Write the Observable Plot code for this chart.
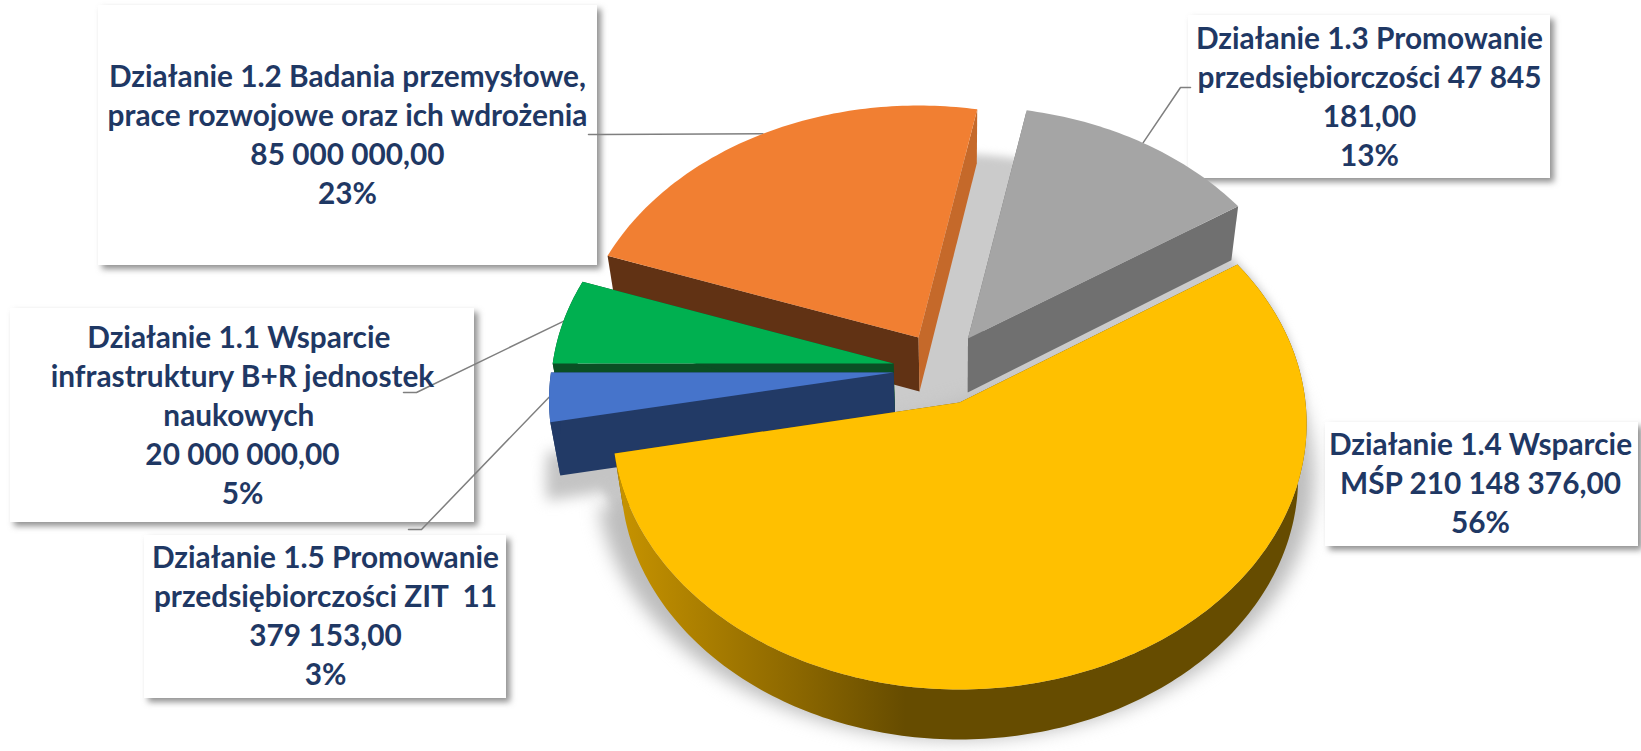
<!DOCTYPE html>
<html lang="pl">
<head>
<meta charset="utf-8">
<script src="https://cdn.jsdelivr.net/npm/d3@7"></script>
<script src="https://cdn.jsdelivr.net/npm/@observablehq/plot@0.6"></script>
<style>html,body{margin:0;padding:0;background:#fff}svg{display:block}</style>
</head>
<body>
<div id="chart"></div>
<script>
// ---- chart values ----
const actions = ["1.1", "1.2", "1.3", "1.4", "1.5"];
const amounts = [20000000, 85000000, 47845181, 210148376, 11379153];
const labelTexts = [
  "Działanie 1.1 Wsparcie\u00a0\ninfrastruktury B+R jednostek\nnaukowych\u00a0\n20 000 000,00\n5%",
  "Działanie 1.2 Badania przemysłowe,\nprace rozwojowe oraz ich wdrożenia\n85 000 000,00\n23%",
  "Działanie 1.3 Promowanie\nprzedsiębiorczości 47 845\n181,00\n13%",
  "Działanie 1.4 Wsparcie\nMŚP 210 148 376,00\n56%",
  "Działanie 1.5 Promowanie\nprzedsiębiorczości ZIT  11\n379 153,00\n3%"
];

// ---- styles ----
const topColors  = ["#00b050", "#f17f32", "#a5a5a5", "#ffc000", "#4674cb"];
const wallColors = ["#0a4f24", "#613214", "#707070", "#664c00", "#223a66"];
const sideColors = ["#0a4f24", "#c5692a", "#707070", "#664c00", "#223a66"];
const rimColors  = ["#0a4f24", null, null, "url(#rimGold)", "#223a66"];
const ink = "#1f3864", leader = "#7f7f7f";

// ---- layout ----
const W = 1641, H = 751;
const RX = 346, NEAR = 287, DEPTH = 54;
const tilt = [0.106, 0.106, 0.106, 0.08, 0.106];
const pivotX = 959;
const apexX = [893, 918, 967.5, 959, 893];
const apexY = [363, 337, 338, 402, 372];
const radius = [0.985, 0.985, 0.985, 1, 0.99];
const paintOrder = [1, 2, 0, 4, 3];
const boxX1 = [10, 98, 1188, 1325, 144];
const boxX2 = [474, 597, 1550, 1638, 506];
const boxY1 = [308, 5, 15, 422, 535];
const boxY2 = [522, 265, 178, 546, 698];
const textX = [242, 347, 1369, 1480, 325];
const textY = [413.5, 132.5, 94.5, 481, 613.5];
const elbowX = [[403, 416], [588, 600], [1190, 1180], null, [408, 421]];
const elbowY = [392, 134, 87, null, 529];

// ---- geometry derived from the values ----
const pieAngles = d3.pie().sort(null).value(d => d)
  .startAngle(Math.PI * 1.5).endAngle(Math.PI * 3.5)(amounts);

function onRim(ax, ay, a, k, p = tilt[0]) {
  const u = Math.sin(a), v = -Math.cos(a), s = 1 / (1 - p * v);
  return {x: ax + RX * k * u * s, y: ay + NEAR * (1 - p) * v * s, v};
}
function dropped(q) {
  return {x: q.x - 0.0245 * (q.x - pivotX), y: q.y + DEPTH - 4 * Math.max(0, q.v), v: q.v};
}
function arc(ax, ay, a0, a1, k, p) {
  const n = Math.max(2, Math.ceil(Math.abs(a1 - a0) / 0.0175));
  return d3.range(n + 1).map(i => onRim(ax, ay, a0 + (a1 - a0) * i / n, k, p));
}
const poly = (pts, fill, extra = {}) =>
  Plot.line(pts, {x: "x", y: "y", fill, stroke: "none", ...extra});

const marks = [];

// gradient for the curved wall of the largest slice
marks.push(() => {
  const defs = d3.create("svg:defs");
  const g = defs.append("linearGradient").attr("id", "rimGold")
    .attr("gradientUnits", "userSpaceOnUse")
    .attr("x1", 610).attr("x2", 905).attr("y1", 0).attr("y2", 0);
  g.append("stop").attr("offset", 0).attr("stop-color", "#c99500");
  g.append("stop").attr("offset", 0.65).attr("stop-color", "#8a6600");
  g.append("stop").attr("offset", 1).attr("stop-color", "#664c00");
  return defs.node();
});

// soft shadows on the floor
const big = pieAngles[3], small = pieAngles[4];
marks.push(poly(arc(945, 385, 0, 2 * Math.PI, 1.03), "#cbcbcb", {imageFilter: "blur(4px)"}));
marks.push(poly(arc(955, 402, big.startAngle, big.endAngle, 1.06, tilt[3]).map(dropped), "#bdbdbd", {imageFilter: "blur(9px)"}));
marks.push(poly(arc(883, 397, small.startAngle, small.endAngle, 1).map(dropped).concat([{x: 883, y: 451}]), "#c4c4c4", {imageFilter: "blur(7px)"}));

// label boxes
marks.push(Plot.rect(d3.range(5), {
  x1: i => boxX1[i], x2: i => boxX2[i], y1: i => boxY1[i], y2: i => boxY2[i],
  fill: "#fff",
  imageFilter: "drop-shadow(4px 4px 3px rgba(70,70,70,.6))"
}));

// leader lines: from the label to the middle of the slice's rim
pieAngles.forEach((d, i) => {
  if (!elbowX[i]) return;
  const end = onRim(apexX[i], apexY[i], (d.startAngle + d.endAngle) / 2, radius[i], tilt[i]);
  const pts = [{x: elbowX[i][0], y: elbowY[i]}, {x: elbowX[i][1], y: elbowY[i]}, end];
  marks.push(Plot.line(pts, {x: "x", y: "y", stroke: leader, strokeWidth: 1.5}));
});

// slices, back to front
for (const i of paintOrder) {
  const d = pieAngles[i], ax = apexX[i], ay = apexY[i], k = radius[i];
  const apex = {x: ax, y: ay, v: 0};
  const rim = arc(ax, ay, d.startAngle, d.endAngle, k, tilt[i]);
  const first = rim[0], last = rim[rim.length - 1];
  // straight walls
  marks.push(poly([apex, first, dropped(first), dropped(apex)], wallColors[i]));
  marks.push(poly([apex, last, dropped(last), dropped(apex)], sideColors[i]));
  // curved wall, only where it faces the viewer
  if (rimColors[i]) marks.push(poly(rim.concat(rim.map(dropped).reverse()), rimColors[i]));
  // top face
  marks.push(poly([apex, ...rim], topColors[i]));
}

// labels
marks.push(Plot.text(labelTexts, {
  x: (d, i) => textX[i], y: (d, i) => textY[i], text: d => d,
  textAnchor: "middle", lineAnchor: "middle",
  fontFamily: "Lato", fontWeight: 700, fontSize: 29.8, lineHeight: 39 / 29.8,
  fill: ink
}));

const chart = Plot.plot({
  width: W, height: H,
  marginTop: 0, marginRight: 0, marginBottom: 0, marginLeft: 0,
  x: {domain: [0, W], range: [0, W], axis: null},
  y: {domain: [0, H], range: [0, H], axis: null},
  style: {background: "#fff", overflow: "hidden"},
  marks
});
document.getElementById("chart").append(chart);
</script>
</body>
</html>
